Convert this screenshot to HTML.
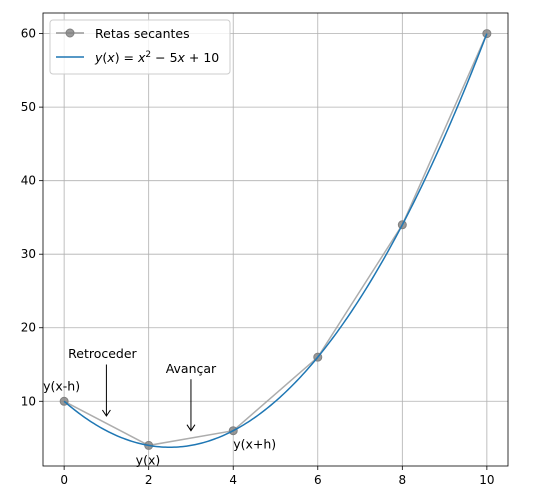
<!DOCTYPE html>
<html><head><meta charset="utf-8"><style>
body{margin:0;background:#fff;}
svg text{font-family:"DejaVu Sans","Liberation Sans",sans-serif;}
</style></head><body>
<svg id="chart" width="533" height="496" xmlns="http://www.w3.org/2000/svg">
<defs><marker id="ah" markerWidth="10" markerHeight="10" refX="8" refY="5" orient="auto" markerUnits="userSpaceOnUse"><path d="M2,1 L8,5 L2,9" fill="none" stroke="#000" stroke-width="1"/></marker></defs>
<g id="grid"></g>
<g id="series"></g>
<g id="axes"></g>
<g id="annot"></g>
<g id="legend"></g>
</svg>
<script>
const xTicks=[0,2,4,6,8,10];
const yTicks=[10,20,30,40,50,60];
const secantX=[0,2,4,6,8,10];
const secantY=[10,4,6,16,34,60];
const coefA=1, coefB=-5, coefC=10;
const L=43,R=508,T=13,B=466,xmin=-0.5,xmax=10.5,ymin=1.2,ymax=62.8;
const sx=v=>L+(v-xmin)/(xmax-xmin)*(R-L);
const sy=v=>B-(v-ymin)/(ymax-ymin)*(B-T);
const NS="http://www.w3.org/2000/svg";
function mk(tag,attrs,parent,txt){const e=document.createElementNS(NS,tag);for(const k in attrs)e.setAttribute(k,attrs[k]);if(txt!==undefined)e.textContent=txt;document.getElementById(parent).appendChild(e);return e;}
xTicks.forEach(v=>{
 const g=mk('line',{x1:sx(v),x2:sx(v),y1:T,y2:B,stroke:'#b0b0b0','stroke-width':0.8},'grid');
 
 
 const t=mk('line',{x1:sx(v),x2:sx(v),y1:B,y2:B+4,stroke:'#000','stroke-width':0.8},'axes');
 
 
 const l=mk('text',{x:sx(v),y:B+18,'text-anchor':'middle','font-size':12},'axes',v);
 
 
});
yTicks.forEach(v=>{
 const g=mk('line',{x1:L,x2:R,y1:sy(v),y2:sy(v),stroke:'#b0b0b0','stroke-width':0.8},'grid');
 
 
 const t=mk('line',{x1:L-4,x2:L,y1:sy(v),y2:sy(v),stroke:'#000','stroke-width':0.8},'axes');
 
 
 const l=mk('text',{x:L-7,y:sy(v)+4,'text-anchor':'end','font-size':12},'axes',v);
 
 
});
const frame=mk('rect',{x:L,y:T,width:R-L,height:B-T,fill:'none',stroke:'#000','stroke-width':0.8},'axes');


const sp=mk('polyline',{points:secantX.map((x,i)=>sx(x)+','+sy(secantY[i])).join(' '),fill:'none',stroke:'#999','stroke-opacity':0.8,'stroke-width':1.5},'series');


secantX.forEach((x,i)=>{
 const c=mk('circle',{cx:sx(x),cy:sy(secantY[i]),r:4,fill:'#808080','fill-opacity':0.8,stroke:'#808080'},'series');
 
 
});
let pts=[];for(let i=0;i<=200;i++){const x=i/20;pts.push(sx(x)+','+sy(coefA*x*x+coefB*x+coefC));}
const cv=mk('polyline',{points:pts.join(' '),fill:'none',stroke:'#1f77b4','stroke-width':1.5},'series');


const ann=[['y(x-h)',sx(0)-21,sy(10)-11,'start'],['y(x)',sx(2)-13,sy(4)+19,'start'],['y(x+h)',sx(4),sy(6)+18,'start'],['Retroceder',sx(0)+4,sy(16)+1,'start'],['Avançar',sx(3),sy(14)+1,'middle']];
ann.forEach(a=>{const t=mk('text',{x:a[1],y:a[2],'text-anchor':a[3],'font-size':12.5},'annot',a[0]);
 
 });
[[1,15,8],[3,13,6]].forEach(a=>{const l=mk('line',{x1:sx(a[0]),x2:sx(a[0]),y1:sy(a[1]),y2:sy(a[2]),stroke:'#000','stroke-width':1,'marker-end':'url(#ah)'},'annot');
 
 });
const lb=mk('rect',{x:50,y:20,width:180,height:54,rx:3,fill:'#fff','fill-opacity':0.8,stroke:'#ccc'},'legend');


const l1=mk('line',{x1:56,x2:84,y1:33,y2:33,stroke:'#999','stroke-width':1.5},'legend');


const l1c=mk('circle',{cx:70,cy:33,r:4,fill:'#808080','fill-opacity':0.8,stroke:'#808080'},'legend');


const t1=mk('text',{x:95,y:38,'font-size':12.5},'legend','Retas secantes');


const l2=mk('line',{x1:56,x2:84,y1:57,y2:57,stroke:'#1f77b4','stroke-width':1.5},'legend');


const t2=mk('text',{x:95,y:62,'font-size':12.5},'legend');
t2.innerHTML='<tspan font-style="italic">y</tspan>(<tspan font-style="italic">x</tspan>) = <tspan font-style="italic">x</tspan><tspan dy="-5" font-size="9">2</tspan><tspan dy="5"> − 5</tspan><tspan font-style="italic">x</tspan> + 10';


</script>
</body></html>
